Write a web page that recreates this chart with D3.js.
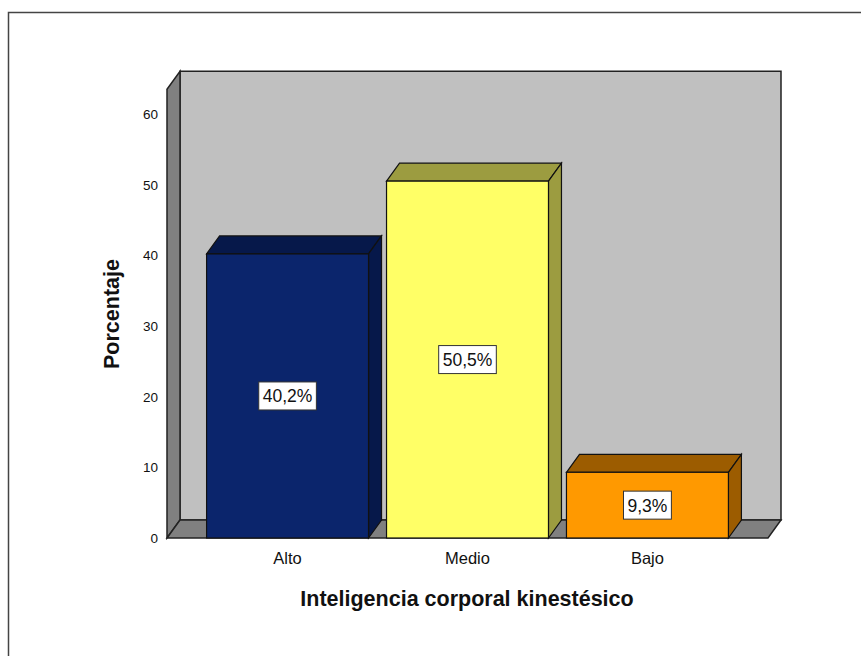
<!DOCTYPE html>
<html>
<head>
<meta charset="utf-8">
<script src="https://cdn.jsdelivr.net/npm/d3@7"></script>
<style>
  body { margin: 0; background: #fff; }
  text { font-family: Arial, "Liberation Sans", sans-serif; }
</style>
</head>
<body>
<div id="chart"></div>
<script>
var width = 861;
var height = 656;

// data
var categories = ["Alto", "Medio", "Bajo"];
var values = [40.2, 50.5, 9.3];
var valueLabels = ["40,2%", "50,5%", "9,3%"];
var yTicks = [0, 10, 20, 30, 40, 50, 60];
var frontColors = ["#0b256c", "#ffff66", "#ff9900"];
var shadeColors = ["#06184a", "#9c9c40", "#9c5c00"];

// 3d depth offset
var dx = 13, dy = 18;
var wallTop = 63.5;

var xScale = d3.scaleBand().domain(categories).range([167, 768])
    .paddingInner(0.1).paddingOuter(0.22);
var yScale = d3.scaleLinear().domain([0, 60]).range([538, 114]);

var svg = d3.select("#chart").append("svg")
    .attr("width", width)
    .attr("height", height);

// outer frame
svg.append("path")
    .attr("d", "M8.5," + height + "V12.5H" + width)
    .attr("fill", "none")
    .attr("stroke", "#444")
    .attr("stroke-width", 1.5);

var x0 = xScale.range()[0], x1 = xScale.range()[1];
var y0 = yScale(0), yT = yScale(wallTop);

function poly(pts) { return "M" + pts.map(function(p) { return p.join(","); }).join("L") + "Z"; }

// back wall
svg.append("path")
    .attr("d", poly([[x0 + dx, yT - dy], [x1 + dx, yT - dy], [x1 + dx, y0 - dy], [x0 + dx, y0 - dy]]))
    .attr("fill", "#c0c0c0").attr("stroke", "#222").attr("stroke-width", 1.5);

// left wall
svg.append("path")
    .attr("d", poly([[x0, yT], [x0 + dx, yT - dy], [x0 + dx, y0 - dy], [x0, y0]]))
    .attr("fill", "#808080").attr("stroke", "#222").attr("stroke-width", 1.5);

// floor
svg.append("path")
    .attr("d", poly([[x0, y0], [x0 + dx, y0 - dy], [x1 + dx, y0 - dy], [x1, y0]]))
    .attr("fill", "#808080").attr("stroke", "#222").attr("stroke-width", 1.5);

// y tick labels
svg.selectAll(".ytick")
    .data(yTicks)
    .enter()
    .append("text")
    .attr("class", "ytick")
    .attr("x", 158)
    .attr("y", function(d) { return yScale(d) + 5; })
    .attr("text-anchor", "end")
    .attr("font-size", 13.5)
    .attr("fill", "#111")
    .text(function(d) { return d; });

// bars
var bars = svg.selectAll(".bar")
    .data(values)
    .enter()
    .append("g")
    .attr("class", "bar");

bars.append("path")
    .attr("d", function(d, i) {
        var l = xScale(categories[i]), r = l + xScale.bandwidth(), t = yScale(d);
        return poly([[l, t], [l + dx, t - dy], [r + dx, t - dy], [r, t]]);
    })
    .attr("fill", function(d, i) { return shadeColors[i]; })
    .attr("stroke", "#111").attr("stroke-width", 1.2);

bars.append("path")
    .attr("d", function(d, i) {
        var r = xScale(categories[i]) + xScale.bandwidth(), t = yScale(d);
        return poly([[r, t], [r + dx, t - dy], [r + dx, y0 - dy], [r, y0]]);
    })
    .attr("fill", function(d, i) { return shadeColors[i]; })
    .attr("stroke", "#111").attr("stroke-width", 1.2);

bars.append("rect")
    .attr("x", function(d, i) { return xScale(categories[i]); })
    .attr("y", function(d) { return yScale(d); })
    .attr("width", xScale.bandwidth())
    .attr("height", function(d) { return y0 - yScale(d); })
    .attr("fill", function(d, i) { return frontColors[i]; })
    .attr("stroke", "#111").attr("stroke-width", 1.2);

// value labels
bars.each(function(d, i) {
    var g = d3.select(this);
    var cx = xScale(categories[i]) + xScale.bandwidth() / 2;
    var cy = (yScale(d) + y0) / 2;
    var t = g.append("text")
        .attr("x", cx)
        .attr("y", cy + 6.5)
        .attr("text-anchor", "middle")
        .attr("font-size", 17.5)
        .attr("fill", "#111")
        .text(valueLabels[i]);
    var w = t.node().getComputedTextLength();
    g.insert("rect", "text")
        .attr("x", cx - w / 2 - 4)
        .attr("y", cy - 14)
        .attr("width", w + 8)
        .attr("height", 28)
        .attr("fill", "#fff")
        .attr("stroke", "#333")
        .attr("stroke-width", 1);
});

// category labels
svg.selectAll(".xlabel")
    .data(categories)
    .enter()
    .append("text")
    .attr("class", "xlabel")
    .attr("x", function(d) { return xScale(d) + xScale.bandwidth() / 2; })
    .attr("y", 564)
    .attr("text-anchor", "middle")
    .attr("font-size", 16.5)
    .attr("fill", "#111")
    .text(function(d) { return d; });

// axis titles
svg.append("text")
    .attr("x", 467)
    .attr("y", 606)
    .attr("text-anchor", "middle")
    .attr("font-size", 21.5)
    .attr("font-weight", "bold")
    .attr("fill", "#111")
    .text("Inteligencia corporal kinestésico");

svg.append("text")
    .attr("transform", "translate(119,314) rotate(-90)")
    .attr("text-anchor", "middle")
    .attr("font-size", 21.5)
    .attr("font-weight", "bold")
    .attr("fill", "#111")
    .text("Porcentaje");
</script>
</body>
</html>
